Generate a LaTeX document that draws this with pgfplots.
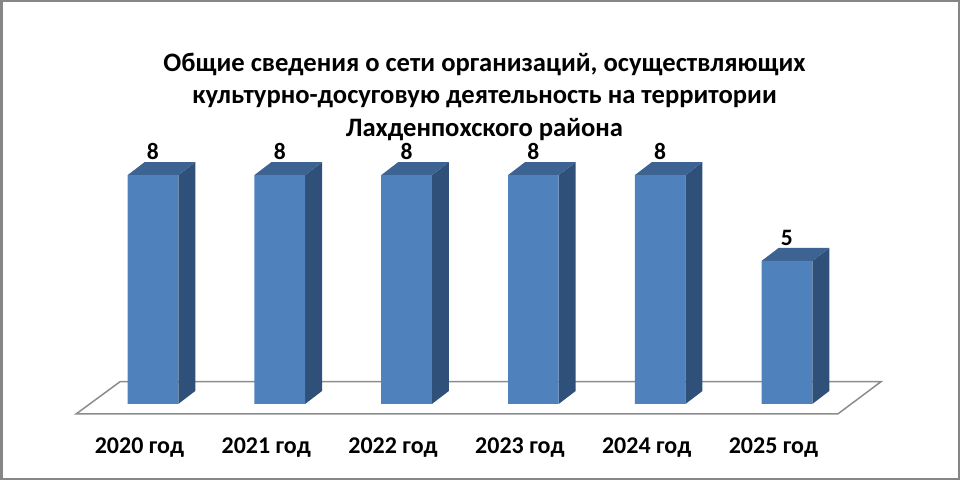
\documentclass[border=0pt]{standalone}
\usepackage{pgfplots}
\pgfplotsset{compat=1.18}
\usepackage{fontspec}
\setmainfont{Carlito}
\definecolor{barfront}{HTML}{4F81BD}
\definecolor{barside}{HTML}{2F5079}
\definecolor{bartop}{HTML}{3C6392}
\definecolor{framegray}{HTML}{868686}
\definecolor{floorgray}{HTML}{8C8C8C}
\begin{document}
\begin{tikzpicture}
\begin{axis}[
  scale only axis, width=957.5pt, height=477.5pt,
  xmin=-1.196, xmax=6.355, ymin=-2.614, ymax=14.08,
  axis line style={draw=framegray, line width=2.5pt},
  major tick length=0pt, tick style={draw=none},
  ytick=\empty,
  xtick={0,1,2,3,4,5},
  xticklabels={2020 год,2021 год,2022 год,2023 год,2024 год,2025 год},
  xticklabel style={font=\fontsize{24}{26}\selectfont\bfseries, anchor=base, xshift=-13.5pt, yshift=25pt},
  title={Общие сведения о сети организаций, осуществляющих\\культурно-досуговую деятельность на территории\\Лахденпохского района},
  title style={at={(0.5047,0.788)}, anchor=center, align=center, inner sep=0pt,
    font=\fontsize{26.6}{32.5}\selectfont\bfseries},
  /pgf/number format/assume math mode=true,
]
% floor
\addplot[fill=white, draw=floorgray, line width=1.5pt] coordinates {
  (-0.606,-0.35) (5.401,-0.35) (5.742,0.78) (-0.259,0.78)
} -- cycle;
% side faces
\addplot[fill=barside, draw=none] coordinates {(0.2,0) (0.2,8) (0.334,8.4545) (0.334,0.4545)} -- cycle;
\addplot[fill=barside, draw=none] coordinates {(1.2,0) (1.2,8) (1.334,8.4545) (1.334,0.4545)} -- cycle;
\addplot[fill=barside, draw=none] coordinates {(2.2,0) (2.2,8) (2.334,8.4545) (2.334,0.4545)} -- cycle;
\addplot[fill=barside, draw=none] coordinates {(3.2,0) (3.2,8) (3.334,8.4545) (3.334,0.4545)} -- cycle;
\addplot[fill=barside, draw=none] coordinates {(4.2,0) (4.2,8) (4.334,8.4545) (4.334,0.4545)} -- cycle;
\addplot[fill=barside, draw=none] coordinates {(5.2,0) (5.2,5) (5.334,5.4545) (5.334,0.4545)} -- cycle;
% top faces
\addplot[fill=bartop, draw=none] coordinates {(-0.2,8) (0.2,8) (0.334,8.4545) (-0.066,8.4545)} -- cycle;
\addplot[fill=bartop, draw=none] coordinates {(0.8,8) (1.2,8) (1.334,8.4545) (0.934,8.4545)} -- cycle;
\addplot[fill=bartop, draw=none] coordinates {(1.8,8) (2.2,8) (2.334,8.4545) (1.934,8.4545)} -- cycle;
\addplot[fill=bartop, draw=none] coordinates {(2.8,8) (3.2,8) (3.334,8.4545) (2.934,8.4545)} -- cycle;
\addplot[fill=bartop, draw=none] coordinates {(3.8,8) (4.2,8) (4.334,8.4545) (3.934,8.4545)} -- cycle;
\addplot[fill=bartop, draw=none] coordinates {(4.8,5) (5.2,5) (5.334,5.4545) (4.934,5.4545)} -- cycle;
% front faces and values
\addplot[ybar, bar width=50.6pt, fill=barfront, draw=none,
  nodes near coords, nodes near coords align={above},
  every node near coord/.append style={font=\fontsize{23.5}{26}\selectfont\bfseries, text=black, inner sep=0pt, yshift=15.3pt}]
  coordinates {(0,8) (1,8) (2,8) (3,8) (4,8) (5,5)};
\end{axis}
\end{tikzpicture}
\end{document}
